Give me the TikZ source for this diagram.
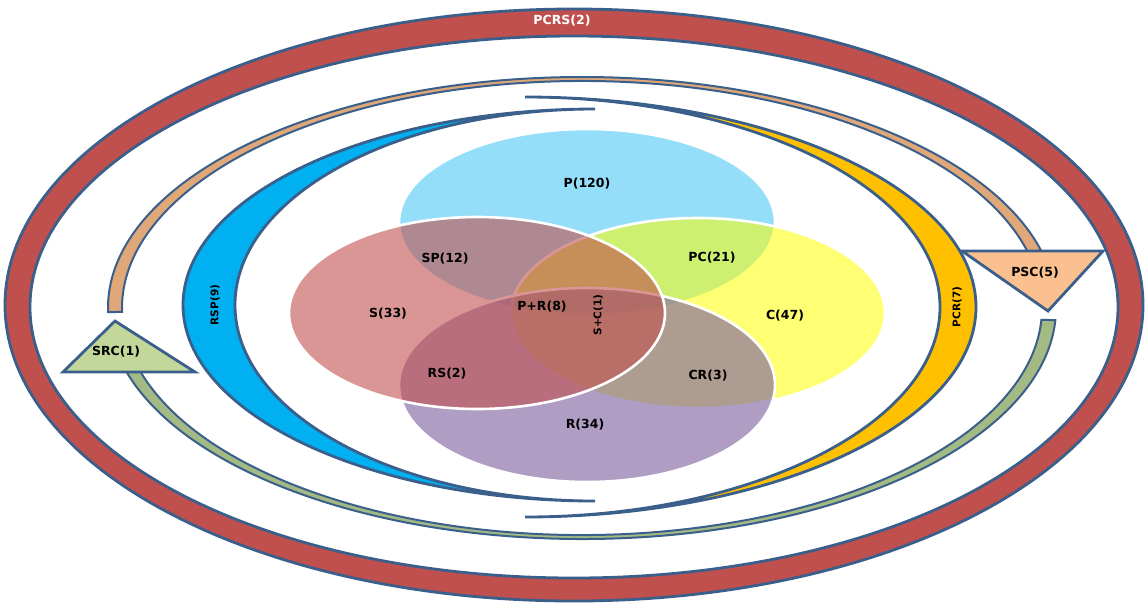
\documentclass[tikz,border=0pt]{standalone}
\usepackage{fontspec}
\setmainfont{DejaVu Sans}
\definecolor{ringred}{HTML}{C0504D}
\definecolor{edgeblue}{HTML}{3A5F8B}
\definecolor{skyblue}{HTML}{00B0F0}
\definecolor{plum}{HTML}{8064A2}
\definecolor{lemon}{HTML}{FFFF00}
\definecolor{amber}{HTML}{FFC000}
\definecolor{peach}{HTML}{FAC090}
\definecolor{peachshaft}{HTML}{E0A878}
\definecolor{sage}{HTML}{C4D79B}
\definecolor{sageshaft}{HTML}{A3BA84}
\begin{document}
\begin{tikzpicture}[x=1pt,y=1pt,
	rim/.style={draw=edgeblue,line width=2.8pt},
	lab/.style={font=\fontsize{12.5}{14}\selectfont\bfseries},
	vlab/.style={font=\fontsize{10.5}{12}\selectfont\bfseries,rotate=90}]
	\useasboundingbox (0,0) rectangle (1147,-603);
	\draw [rim,fill=ringred,even odd rule] (574,-305) ellipse (569 and 296) (574,-307) ellipse (544 and 271);
	\node [lab,text=white] (pcrs) at (562,-21) {PCRS(2)};
	\coordinate (ac) at (582,-308);
	\draw [rim,line width=2pt,fill=peachshaft] ([shift={(181:474 and 231)}]ac) arc[start angle=181,end angle=14.4,x radius=474,y radius=231] -- ([shift={(14.4:460 and 227)}]ac) arc[start angle=14.4,end angle=181,x radius=460,y radius=227] -- cycle;
	\draw [rim,line width=2pt,fill=sageshaft] ([shift={(-3:474 and 231)}]ac) arc[start angle=-3,end angle=-164,x radius=474,y radius=231] -- ([shift={(-164:460 and 227)}]ac) arc[start angle=-164,end angle=-3,x radius=460,y radius=227] -- cycle;
	\draw [rim,fill=peach] (962,-251) -- (1103,-251) -- (1048,-311) -- cycle;
	\node [lab] (psc) at (1035,-273) {PSC(5)};
	\draw [rim,fill=sage] (115,-321) -- (195,-372) -- (63,-372) -- cycle;
	\node [lab] (src) at (116,-352) {SRC(1)};
	\draw [rim,fill=skyblue] (595,-109) arc[start angle=90,end angle=270,x radius=412,y radius=196] arc[start angle=270,end angle=90,x radius=360,y radius=196] -- cycle;
	\node [vlab] (rsp) at (215,-305) {RSP(9)};
	\draw [rim,fill=amber] (525,-97) arc[start angle=90,end angle=-90,x radius=451,y radius=210] arc[start angle=-90,end angle=90,x radius=415,y radius=210] -- cycle;
	\node [vlab] (pcr) at (957,-307) {PCR(7)};
	\begin{scope}[draw=white,line width=2.6pt]
	\filldraw [fill=skyblue,fill opacity=0.42] (587,-222) ellipse (188 and 93);
	\filldraw [fill=lemon,fill opacity=0.55] (698,-313) ellipse (187 and 95);
	\filldraw [fill=plum,fill opacity=0.63] (587,-385) ellipse (188 and 97);
	\filldraw [fill=ringred,fill opacity=0.6] (477,-313) ellipse (188 and 96);
	\end{scope}
	\begin{scope}[every node/.style={lab}]
	\node (p) at (587,-184) {P(120)};
	\node (sp) at (445,-259) {SP(12)};
	\node (pc) at (712,-258) {PC(21)};
	\node (s) at (388,-314) {S(33)};
	\node (pr) at (542,-307) {P+R(8)};
	\node (c) at (785,-316) {C(47)};
	\node (rs) at (447,-374) {RS(2)};
	\node (cr) at (708,-376) {CR(3)};
	\node (r) at (585,-425) {R(34)};
	\end{scope}
	\node [vlab] (sc) at (598,-315) {S+C(1)};
\end{tikzpicture}
\end{document}
